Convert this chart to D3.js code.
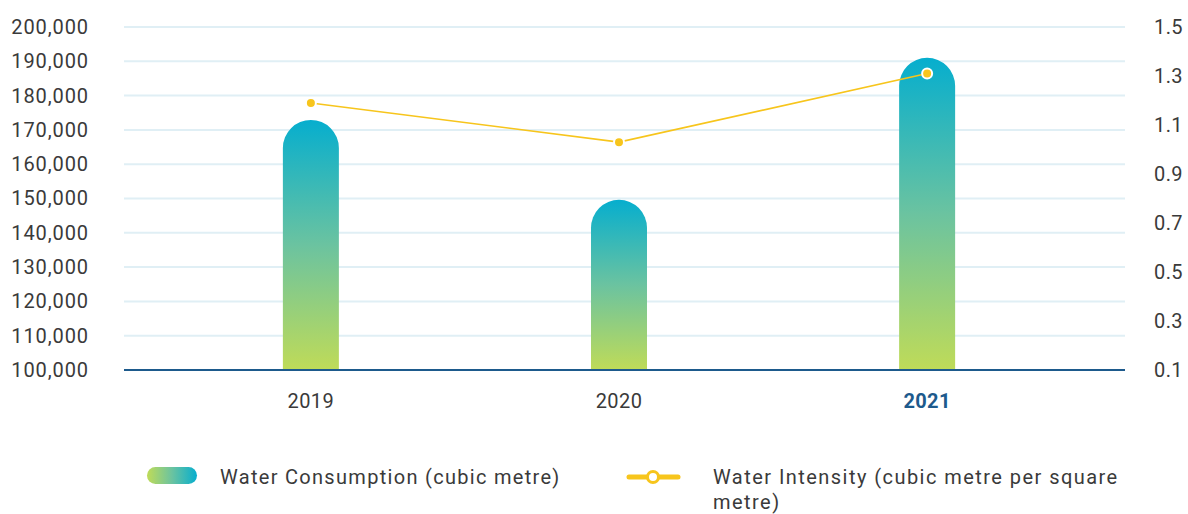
<!DOCTYPE html>
<html>
<head>
<meta charset="utf-8">
<script src="https://cdn.jsdelivr.net/npm/d3@7"></script>
<style>
body { margin: 0; background: #fff; }
text { font-family: Roboto, "Noto Sans", sans-serif; }
</style>
</head>
<body>
<svg width="1188" height="514"></svg>
<script>
var years = ["2019", "2020", "2021"];
var consumption = [172900, 149600, 191000];
var intensity = [1.19, 1.03, 1.31];
var leftTicks = [100000, 110000, 120000, 130000, 140000, 150000, 160000, 170000, 180000, 190000, 200000];
var rightTicks = [0.1, 0.3, 0.5, 0.7, 0.9, 1.1, 1.3, 1.5];
var legendLabels = ["Water Consumption (cubic metre)", "Water Intensity (cubic metre per square", "metre)"];

var svg = d3.select("svg");
var plot = {left: 124, right: 1125, top: 27, bottom: 370};

var xScale = d3.scalePoint().domain(years).range([plot.left + 2, 1112]).padding(0.6);
var yLeft = d3.scaleLinear().domain([100000, 200000]).range([plot.bottom, plot.top]);
var yRight = d3.scaleLinear().domain([0.1, 1.5]).range([plot.bottom, plot.top]);

var defs = svg.append("defs");
var grad = defs.append("linearGradient").attr("id", "barGrad")
    .attr("x1", 0).attr("y1", 0).attr("x2", 0).attr("y2", 1);
grad.append("stop").attr("offset", "0%").attr("stop-color", "#06aece");
grad.append("stop").attr("offset", "50%").attr("stop-color", "#6bc3a0");
grad.append("stop").attr("offset", "100%").attr("stop-color", "#bfdb58");

var lgGrad = defs.append("linearGradient").attr("id", "legGrad")
    .attr("x1", 0).attr("y1", 0).attr("x2", 1).attr("y2", 0);
lgGrad.append("stop").attr("offset", "0%").attr("stop-color", "#bfdb58");
lgGrad.append("stop").attr("offset", "50%").attr("stop-color", "#6bc3a0");
lgGrad.append("stop").attr("offset", "100%").attr("stop-color", "#06aece");

// gridlines
svg.append("g").selectAll("line")
    .data(leftTicks.slice(1))
    .enter().append("line")
    .attr("x1", plot.left).attr("x2", plot.right)
    .attr("y1", function(d){ return yLeft(d); })
    .attr("y2", function(d){ return yLeft(d); })
    .attr("stroke", "#e0eff5").attr("stroke-width", 2);

// left axis
var leftAxis = d3.axisLeft(yLeft).tickValues(leftTicks).tickSize(0).tickPadding(35)
    .tickFormat(d3.format(","));
var gl = svg.append("g").attr("transform", "translate(" + plot.left + ",0)").call(leftAxis);
gl.select(".domain").remove();
gl.selectAll("text").attr("font-size", 20).attr("fill", "#3a3a3a")
    .attr("font-family", "Roboto").attr("letter-spacing", 0.9);

// right axis
var rightAxis = d3.axisRight(yRight).tickValues(rightTicks).tickSize(0).tickPadding(29)
    .tickFormat(d3.format(".1f"));
var gr = svg.append("g").attr("transform", "translate(" + plot.right + ",0)").call(rightAxis);
gr.select(".domain").remove();
gr.selectAll("text").attr("font-size", 20).attr("fill", "#3a3a3a")
    .attr("font-family", "Roboto").attr("letter-spacing", 0.4);

// bars with rounded top
var barW = 56;
svg.append("g").selectAll("path")
    .data(consumption)
    .enter().append("path")
    .attr("fill", "url(#barGrad)")
    .attr("d", function(d, i){
        var cx = xScale(years[i]);
        var x0 = cx - barW / 2, x1 = cx + barW / 2, r = barW / 2;
        var top = yLeft(d), bot = yLeft(100000);
        return "M" + x0 + "," + bot + "L" + x0 + "," + (top + r) +
            "A" + r + "," + r + " 0 0 1 " + x1 + "," + (top + r) +
            "L" + x1 + "," + bot + "Z";
    });

// x axis line
svg.append("line")
    .attr("x1", plot.left).attr("x2", plot.right)
    .attr("y1", plot.bottom).attr("y2", plot.bottom)
    .attr("stroke", "#1d5a8c").attr("stroke-width", 2);

// x labels
svg.append("g").selectAll("text")
    .data(years)
    .enter().append("text")
    .attr("x", function(d){ return xScale(d); })
    .attr("y", 408)
    .attr("text-anchor", "middle")
    .attr("font-size", 20)
    .attr("letter-spacing", 0.4)
    .attr("font-weight", function(d, i){ return i == 2 ? "bold" : "normal"; })
    .attr("fill", function(d, i){ return i == 2 ? "#1d5a8c" : "#3a3a3a"; })
    .text(function(d){ return d; });

// intensity line
var lineGen = d3.line()
    .x(function(d, i){ return xScale(years[i]); })
    .y(function(d){ return yRight(d); });
svg.append("path")
    .datum(intensity)
    .attr("d", lineGen)
    .attr("fill", "none")
    .attr("stroke", "#f7c51c")
    .attr("stroke-width", 1.6);

svg.append("g").selectAll("circle")
    .data(intensity)
    .enter().append("circle")
    .attr("cx", function(d, i){ return xScale(years[i]); })
    .attr("cy", function(d){ return yRight(d); })
    .attr("r", 5)
    .attr("fill", "#f7c51c")
    .attr("stroke", "#fff")
    .attr("stroke-width", 2);

// legend
svg.append("rect")
    .attr("x", 147).attr("y", 467).attr("width", 50).attr("height", 17)
    .attr("rx", 8.5).attr("fill", "url(#legGrad)");
svg.append("text")
    .attr("x", 220).attr("y", 484)
    .attr("font-size", 20).attr("fill", "#3a3a3a").attr("letter-spacing", 1.3)
    .text(legendLabels[0]);

svg.append("line")
    .attr("x1", 629).attr("x2", 678).attr("y1", 477).attr("y2", 477)
    .attr("stroke", "#f7c51c").attr("stroke-width", 5).attr("stroke-linecap", "round");
svg.append("circle")
    .attr("cx", 653).attr("cy", 477).attr("r", 5.5)
    .attr("fill", "#fff").attr("stroke", "#f7c51c").attr("stroke-width", 3);
svg.append("text")
    .attr("x", 713).attr("y", 484)
    .attr("font-size", 20).attr("fill", "#3a3a3a").attr("letter-spacing", 1.45)
    .text(legendLabels[1]);
svg.append("text")
    .attr("x", 713).attr("y", 509)
    .attr("font-size", 20).attr("fill", "#3a3a3a").attr("letter-spacing", 1.45)
    .text(legendLabels[2]);
</script>
</body>
</html>
